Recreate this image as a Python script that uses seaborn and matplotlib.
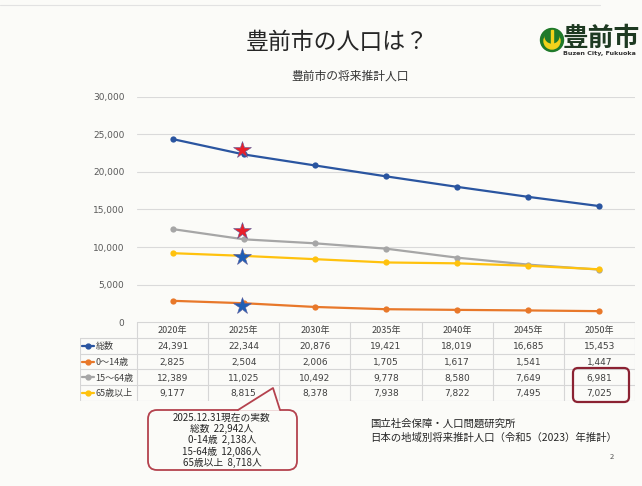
import numpy as np
import pandas as pd
from matplotlib import pyplot as plt
import matplotlib.patches as patches
import seaborn as sns

# Projected population of Buzen City
years = ['2020年', '2025年', '2030年', '2035年', '2040年', '2045年', '2050年']
series_names = ['総数', '0～14歳', '15～64歳', '65歳以上']
total = [24391, 22344, 20876, 19421, 18019, 16685, 15453]
age_0_14 = [2825, 2504, 2006, 1705, 1617, 1541, 1447]
age_15_64 = [12389, 11025, 10492, 9778, 8580, 7649, 6981]
age_65_up = [9177, 8815, 8378, 7938, 7822, 7495, 7025]

# Actual counts as of 2025.12.31 (stars)
actual_names = ['総数', '0-14歳', '15-64歳', '65歳以上']
actual_values = [22942, 2138, 12086, 8718]
actual_colors = ['#E8202A', '#1F5FB5', '#E8202A', '#1F5FB5']

line_colors = {'総数': '#2A55A0', '0～14歳': '#E8782A',
               '15～64歳': '#A6A6A6', '65歳以上': '#FFC20E'}

bg = '#FBFBF8'
sns.set_theme(style='white')
plt.rcParams['font.family'] = ['Noto Sans CJK JP', 'DejaVu Sans']

rows = []
for name, vals in zip(series_names, [total, age_0_14, age_15_64, age_65_up]):
    for i, v in enumerate(vals):
        rows.append({'x': i, 'value': v, 'series': name})
df = pd.DataFrame(rows)

W, H = 642, 486
fig = plt.figure(figsize=(W / 100, H / 100), dpi=100, facecolor=bg)

def px_rect(x0, y0, x1, y1):
    return [x0 / W, 1 - y1 / H, (x1 - x0) / W, (y1 - y0) / H]

# main chart
ax = fig.add_axes(px_rect(137, 97, 635, 322))
ax.set_facecolor(bg)
sns.lineplot(data=df, x='x', y='value', hue='series', palette=line_colors,
             marker='o', markersize=4.5, markeredgewidth=0, linewidth=1.6,
             legend=False, ax=ax)
star_df = pd.DataFrame({'x': [0.98] * 4, 'value': actual_values, 'name': actual_names})
for i, row in star_df.iterrows():
    ax.plot(row['x'], row['value'], marker='*', markersize=13,
            color=actual_colors[i], markeredgecolor='#5A5A9A', markeredgewidth=0.4,
            zorder=5)
ax.set_xlim(-0.5, 6.5)
ax.set_ylim(0, 30000)
ax.set_yticks(range(0, 30001, 5000))
ax.set_yticklabels([f'{v:,}' for v in range(0, 30001, 5000)], fontsize=6.5,
                   color='#595959', family='DejaVu Sans')
ax.tick_params(axis='y', length=0, pad=9)
ax.set_xticks([])
ax.set_xlabel('')
ax.set_ylabel('')
ax.yaxis.grid(True, color='#DADADA', linewidth=0.8)
ax.set_axisbelow(True)
for s in ax.spines.values():
    s.set_visible(False)

# data table
label_w = (137 - 80) / 71.1
tax = fig.add_axes(px_rect(80, 322, 635, 401))
tax.set_xlim(-0.5 - label_w, 6.5)
tax.set_ylim(5, 0)
tax.axis('off')
grid_c = '#D6D6D6'
tax.plot([-0.5, 6.5], [0, 0], color=grid_c, lw=0.8)
for r in range(1, 6):
    tax.plot([-0.5 - label_w, 6.5], [r, r], color=grid_c, lw=0.8)
for k in range(8):
    tax.plot([-0.5 + k, -0.5 + k], [0, 5], color=grid_c, lw=0.8)
tax.plot([-0.5 - label_w, -0.5 - label_w], [1, 5], color=grid_c, lw=0.8)
for i, yr in enumerate(years):
    tax.text(i, 0.55, yr, ha='center', va='center', fontsize=6.5, color='#404040')
for r, (name, vals) in enumerate(zip(series_names, [total, age_0_14, age_15_64, age_65_up])):
    y = r + 1.5
    x0 = -0.5 - label_w + 0.03
    tax.plot([x0, x0 + 0.17], [y, y], color=line_colors[name], lw=1.6)
    tax.plot(x0 + 0.085, y, marker='o', markersize=3.5, color=line_colors[name])
    tax.text(x0 + 0.19, y + 0.05, name, ha='left', va='center', fontsize=6.5, color='#404040')
    for i, v in enumerate(vals):
        tax.text(i, y + 0.05, f'{v:,}', ha='center', va='center', fontsize=6.5,
                 color='#404040', family='DejaVu Sans')

# overlay in pixel coordinates
ov = fig.add_axes([0, 0, 1, 1])
ov.set_xlim(0, W)
ov.set_ylim(H, 0)
ov.axis('off')
ov.patch.set_alpha(0)

ov.plot([0, 600], [5, 5], color='#E2E2E2', lw=0.8)

ov.text(337, 42, '豊前市の人口は？', ha='center', va='center', fontsize=16.5, color='#262626')
ov.text(350, 76, '豊前市の将来推計人口', ha='center', va='center', fontsize=8.5, color='#333333')

# logo
ov.add_patch(patches.Circle((552, 40), 11.5, color='#1F7A2A', zorder=3))
ov.add_patch(patches.Circle((552, 41), 8, color='#F2D21B', zorder=4))
ov.add_patch(patches.Ellipse((552, 36), 14, 14, color='#1F7A2A', zorder=5))
ov.add_patch(patches.Rectangle((550.8, 30), 2.4, 16, color='#F2D21B', zorder=6))
ov.text(563, 38, '豊前市', ha='left', va='center', fontsize=18.5, fontweight='bold',
        color='#1E3A22', clip_on=False)
ov.text(563, 53, 'Buzen City, Fukuoka', ha='left', va='center', fontsize=4.6,
        color='#333333', family='DejaVu Sans', fontweight='bold')

# red frame around 2050 values
ov.add_patch(patches.FancyBboxPatch((573, 368), 56, 34, boxstyle='round,pad=0,rounding_size=5',
                                    fill=False, edgecolor='#8B2232', lw=1.6))

# callout
edge = '#B4424E'
ov.add_patch(patches.FancyBboxPatch((148, 410), 149, 60, boxstyle='round,pad=0,rounding_size=9',
                                    facecolor=bg, edgecolor=edge, lw=1.3, zorder=3))
ov.add_patch(patches.Polygon([(238, 410.8), (273, 388), (280, 410.8)], closed=True,
                             facecolor=bg, edgecolor='none', zorder=4))
ov.plot([238, 273, 280], [410, 388, 410], color=edge, lw=1.3, zorder=5)
callout_lines = ['2025.12.31現在の実数'] + [f'{n}  {v:,}人' for n, v in zip(actual_names, actual_values)]
for k, line in enumerate(callout_lines):
    ov.text(222, 418 + k * 11.2, line, ha='center', va='center', fontsize=7, color='#262626', zorder=6)

# source
ov.text(370, 424, '国立社会保障・人口問題研究所', ha='left', va='center', fontsize=7.5, color='#262626')
ov.text(370, 438, '日本の地域別将来推計人口（令和5（2023）年推計）', ha='left', va='center',
        fontsize=7.5, color='#262626')
ov.text(612, 457, '2', ha='center', va='center', fontsize=5.5, color='#555555')

fig.savefig('out.png', dpi=100, facecolor=bg)
